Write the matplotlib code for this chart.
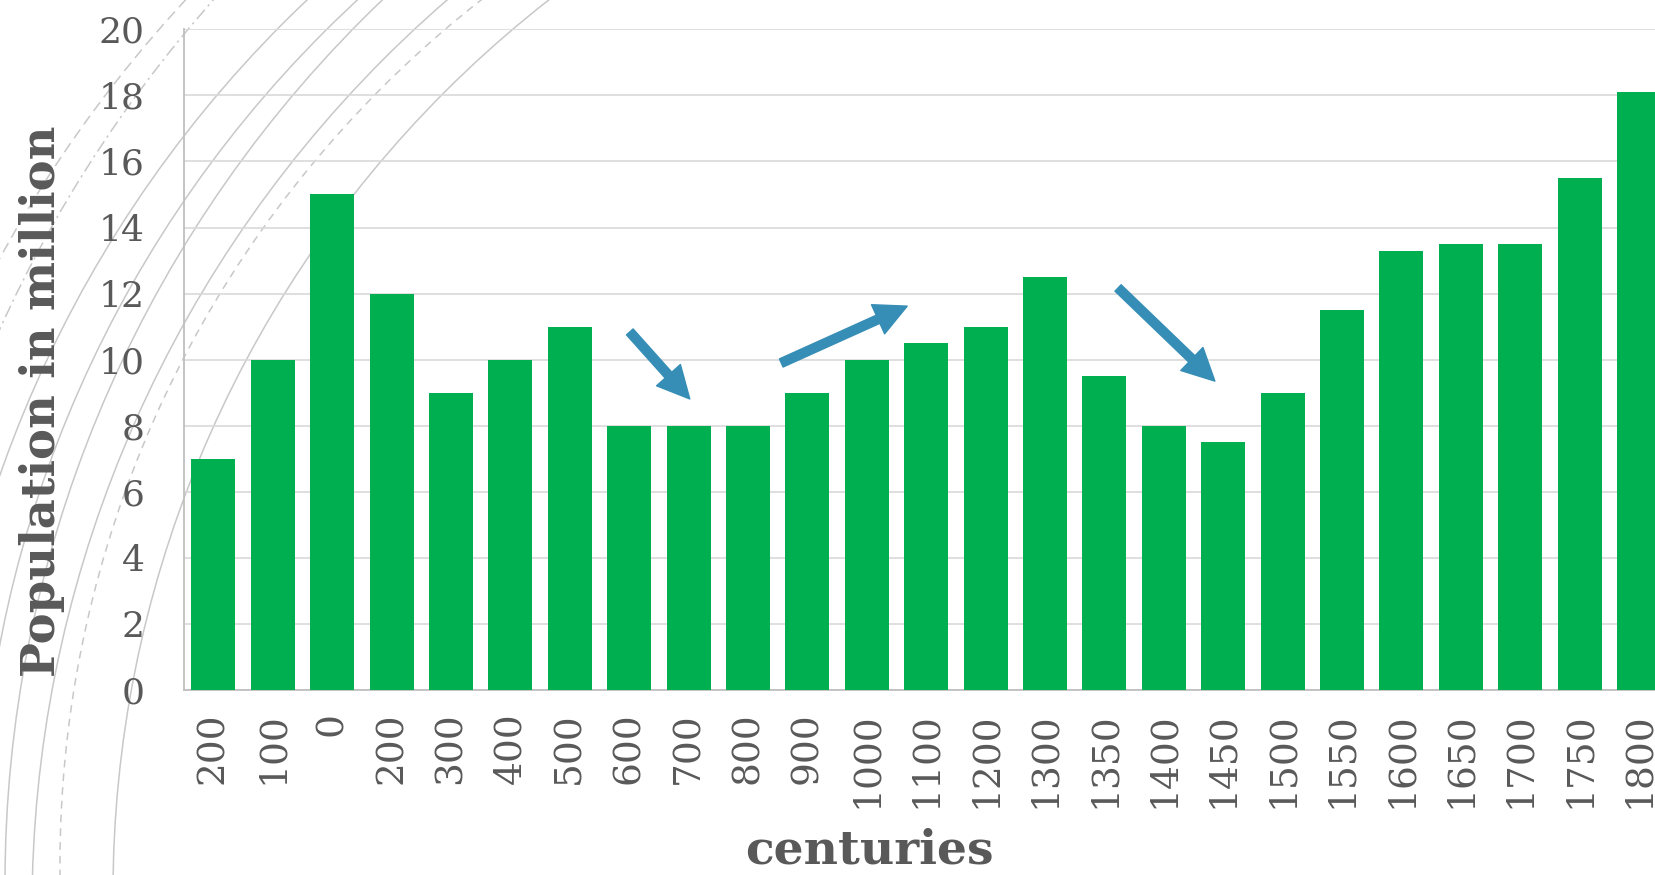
import matplotlib
matplotlib.use("Agg")
import matplotlib.pyplot as plt
from matplotlib.patches import Circle, FancyArrowPatch
import numpy as np

# x categories and population (million)
CENTURIES = ["200", "100", "0", "200", "300", "400", "500", "600", "700", "800",
             "900", "1000", "1100", "1200", "1300", "1350", "1400", "1450", "1500",
             "1550", "1600", "1650", "1700", "1750", "1800"]
POPULATION = [7, 10, 15, 12, 9, 10, 11, 8, 8, 8,
              9, 10, 10.5, 11, 12.5, 9.5, 8, 7.5, 9,
              11.5, 13.3, 13.5, 13.5, 15.5, 18.1]

Y_TICKS = list(range(0, 21, 2))

BAR_COLOR = "#00B050"
ARROW_COLOR = "#368EB6"
TEXT_COLOR = "#595959"
GRID_COLOR = "#D9D9D9"
ARC_COLOR = "#C8C8C8"

W, H = 1655, 875

fig = plt.figure(figsize=(W / 100, H / 100), dpi=100)
plt.rcParams["font.family"] = ["DejaVu Serif"]

# background decoration: big arcs in figure pixel coords
bg = fig.add_axes([0, 0, 1, 1], zorder=0)
bg.set_xlim(0, W)
bg.set_ylim(H, 0)
bg.axis("off")
arcs = [
    (1246, 893, 1133, "-"),
    (1157, 864, 1097, (0, (5, 4))),
    (1235, 909, 1203, "-"),
    (1227, 883, 1222, "-"),
    (1157, 865, 1178, "-"),
    (1132, 870, 1199, "-"),
    (1194, 870, 1311, (0, (8, 3, 1.5, 3))),
    (1123, 870, 1279, (0, (7, 4))),
]
for cx, cy, r, ls in arcs:
    bg.add_patch(Circle((cx, cy), r, fill=False, edgecolor=ARC_COLOR,
                        linewidth=1.1, linestyle=ls))

# main chart
left = 183.7 / W
bottom = 1 - 690 / H
width = 25 * 59.4 / W
height = (690 - 29.3) / H
ax = fig.add_axes([left, bottom, width, height], zorder=1)
ax.set_facecolor("none")

x = np.arange(len(CENTURIES))
ax.bar(x, POPULATION, width=0.74, color=BAR_COLOR, zorder=3)

ax.set_xlim(-0.5, len(CENTURIES) - 0.5)
ax.set_ylim(0, 20)
ax.set_yticks(Y_TICKS)
ax.set_xticks(x)
ax.set_xticklabels(CENTURIES, rotation=90, fontsize=27, color=TEXT_COLOR)
ax.tick_params(axis="x", length=0, pad=16)
ax.tick_params(axis="y", length=0, pad=28, labelsize=26, labelcolor=TEXT_COLOR)
ax.yaxis.grid(True, color=GRID_COLOR, linewidth=1.2, zorder=1)
ax.set_axisbelow(True)
for s in ["top", "right"]:
    ax.spines[s].set_visible(False)
for s in ["left", "bottom"]:
    ax.spines[s].set_color("#BFBFBF")
    ax.spines[s].set_linewidth(1.3)

# trend arrows (data coords: tail -> tip)
trends = [((7.01, 10.84), (8.02, 8.81)),
          ((9.56, 9.90), (11.68, 11.62)),
          ((15.23, 12.17), (16.86, 9.35))]
for tail, tip in trends:
    ax.add_patch(FancyArrowPatch(tail, tip,
                                 arrowstyle="simple,head_length=1.15,head_width=1.15,tail_width=0.32",
                                 mutation_scale=20, color=ARROW_COLOR, zorder=5,
                                 shrinkA=0, shrinkB=0))

fig.text(42 / W, 1 - 401 / H, "Population in million", rotation=90,
         ha="center", va="center", fontsize=33.5, fontweight="bold", color=TEXT_COLOR)
fig.text(869 / W, 1 - 863 / H, "centuries", ha="center", va="baseline",
         fontsize=34, fontweight="bold", color=TEXT_COLOR)

fig.savefig("out.png", dpi=100)
